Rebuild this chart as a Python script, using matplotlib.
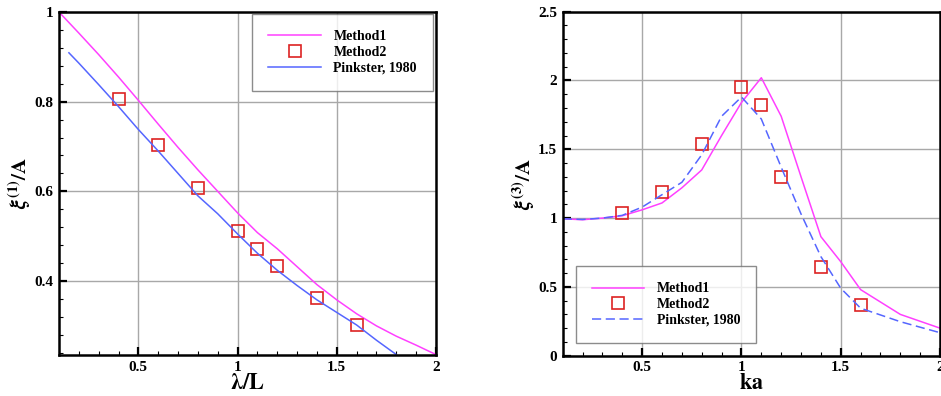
import matplotlib
matplotlib.use("Agg")
import matplotlib.pyplot as plt
from matplotlib.ticker import MultipleLocator

plt.rcParams['font.family'] = ['Liberation Serif', 'DejaVu Serif']
plt.rcParams['font.weight'] = 'bold'
plt.rcParams['mathtext.fontset'] = 'stix'

# left panel: first-order response vs lambda/L
wl_m1 = [0.1, 0.2, 0.3, 0.4, 0.5, 0.6, 0.7, 0.8, 0.9, 1.0,
         1.1, 1.2, 1.3, 1.4, 1.5, 1.6, 1.7, 1.8, 1.9, 2.0]
heave_m1 = [1.0, 0.953, 0.905, 0.855, 0.803, 0.75, 0.698, 0.648, 0.6, 0.552,
            0.508, 0.472, 0.432, 0.392, 0.358, 0.327, 0.3, 0.277, 0.257, 0.236]

wl_pk = [0.15, 0.2, 0.3, 0.4, 0.5, 0.6, 0.7, 0.8, 0.9, 1.0,
         1.1, 1.2, 1.3, 1.4, 1.5, 1.6, 1.7, 1.8]
heave_pk = [0.909, 0.886, 0.838, 0.789, 0.738, 0.69, 0.64, 0.59, 0.55, 0.505,
            0.462, 0.424, 0.39, 0.358, 0.33, 0.302, 0.268, 0.236]

wl_m2 = [0.4, 0.6, 0.8, 1.0, 1.1, 1.2, 1.4, 1.6]
heave_m2 = [0.806, 0.703, 0.607, 0.512, 0.472, 0.434, 0.363, 0.303]

# right panel: third-order response vs ka
ka_m1 = [0.1, 0.2, 0.3, 0.4, 0.5, 0.6, 0.7, 0.8, 0.9, 1.0,
         1.1, 1.2, 1.3, 1.4, 1.5, 1.6, 1.8, 2.0]
resp_m1 = [0.995, 0.988, 1.0, 1.017, 1.06, 1.11, 1.22, 1.35, 1.6, 1.84,
           2.02, 1.74, 1.3, 0.865, 0.683, 0.48, 0.30, 0.20]

ka_pk = [0.1, 0.2, 0.3, 0.4, 0.5, 0.6, 0.7, 0.8, 0.9, 1.0,
         1.1, 1.2, 1.3, 1.4, 1.5, 1.6, 1.8, 2.0]
resp_pk = [0.995, 0.99, 1.0, 1.02, 1.08, 1.17, 1.26, 1.46, 1.74, 1.88,
           1.72, 1.37, 1.03, 0.72, 0.49, 0.345, 0.247, 0.167]

ka_m2 = [0.4, 0.6, 0.8, 1.0, 1.1, 1.2, 1.4, 1.6]
resp_m2 = [1.04, 1.19, 1.535, 1.95, 1.82, 1.30, 0.646, 0.37]

labels = ["Method1", "Method2", "Pinkster, 1980"]

fig = plt.figure(figsize=(9.41, 3.96), dpi=100)
ax1 = fig.add_axes([0.0627, 0.1035, 0.4006, 0.8662])
ax2 = fig.add_axes([0.598, 0.1018, 0.401, 0.8687])


def style(ax, xmin, xmax, ymin, ymax, ymaj, ymin_step):
    ax.set_xlim(xmin, xmax)
    ax.set_ylim(ymin, ymax)
    ax.xaxis.set_major_locator(MultipleLocator(0.5))
    ax.xaxis.set_minor_locator(MultipleLocator(0.1))
    ax.yaxis.set_major_locator(MultipleLocator(ymaj))
    ax.yaxis.set_minor_locator(MultipleLocator(ymin_step))
    ax.xaxis.set_major_formatter(plt.FuncFormatter(lambda v, p: f'{v:g}'))
    ax.yaxis.set_major_formatter(plt.FuncFormatter(lambda v, p: f'{v:g}'))
    ax.tick_params(which='major', direction='in', length=6, width=1.6,
                   labelsize=11, top=False, right=False, pad=4)
    ax.tick_params(which='minor', direction='in', length=3, width=0.8,
                   top=False, right=False)
    ax.grid(True, which='major', color='#a8a8a8', lw=1.0)
    ax.set_axisbelow(True)
    for s in ax.spines.values():
        s.set_linewidth(1.8)
    for lab in ax.get_xticklabels() + ax.get_yticklabels():
        lab.set_fontweight('bold')


def legend(ax, loc, anchor):
    leg = ax.legend(loc=loc, bbox_to_anchor=anchor, borderaxespad=0,
                    fancybox=False, edgecolor='#707070', fontsize=10,
                    handlelength=3.8, borderpad=1.15, labelspacing=0.2,
                    handletextpad=0.9)
    leg.get_frame().set_linewidth(1.0)
    for t in leg.get_texts():
        t.set_fontweight('bold')
    return leg


ax1.plot(wl_m1, heave_m1, color='#ff40ff', lw=1.1, label=labels[0])
ax1.plot(wl_m2, heave_m2, ls='none', marker='s', ms=8, mfc='none',
         mec='#dd2222', mew=1.2, label=labels[1])
ax1.plot(wl_pk, heave_pk, color='#5566ff', lw=1.1, label=labels[2])
style(ax1, 0.1, 2.0, 0.235, 1.0, 0.2, 0.04)
ax1.set_xlabel(r'$\mathbf{\lambda/L}$', fontsize=16, labelpad=0)
ax1.set_ylabel(r'$\xi^{\mathbf{(1)}}\mathbf{/A}$', fontsize=15, labelpad=1)
legend(ax1, 'upper right', (0.992, 0.994))

ax2.plot(ka_m1, resp_m1, color='#ff40ff', lw=1.1, label=labels[0])
ax2.plot(ka_m2, resp_m2, ls='none', marker='s', ms=8, mfc='none',
         mec='#dd2222', mew=1.2, label=labels[1])
ax2.plot(ka_pk, resp_pk, color='#5566ff', lw=1.1, ls=(0, (6, 3)), label=labels[2])
style(ax2, 0.1, 2.0, 0.0, 2.5, 0.5, 0.1)
ax2.set_xlabel(r'$\mathbf{ka}$', fontsize=16, labelpad=0)
ax2.set_ylabel(r'$\xi^{\mathbf{(3)}}\mathbf{/A}$', fontsize=15, labelpad=1)
legend(ax2, 'lower left', (0.0345, 0.037))

fig.savefig('out.png', dpi=100)
